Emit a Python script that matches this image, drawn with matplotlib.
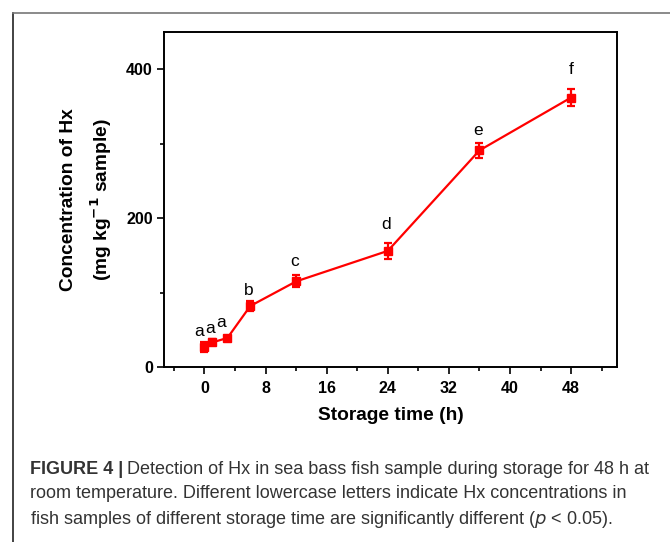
import matplotlib
matplotlib.use("Agg")
import matplotlib.pyplot as plt
from matplotlib.lines import Line2D
from matplotlib.ticker import MultipleLocator

# ---- data ----
time_h = [0, 1, 3, 6, 12, 24, 36, 48]
hx_conc = [27, 33, 39, 82, 115, 156, 291, 362]
hx_err = [7, 4, 3, 7, 8, 11, 10, 11]
sig_letters = ["a", "a", "a", "b", "c", "d", "e", "f"]
x_ticks = [0, 8, 16, 24, 32, 40, 48]
y_ticks = [0, 200, 400]

plt.rcParams['font.family'] = ['Liberation Sans', 'DejaVu Sans']

W, H = 670, 542
fig = plt.figure(figsize=(W / 100, H / 100), dpi=100)

ax = fig.add_axes([164 / W, 1 - 367 / H, (617 - 164) / W, (367 - 32) / H])

red = '#ff0000'
ax.errorbar(time_h, hx_conc, yerr=hx_err, color=red, marker='s', ms=5.5,
            lw=1.6, elinewidth=1.6, capsize=3, capthick=1.6)

# letter annotations (offsets in points from the top of each error bar)
x_off = [-3.6, -1.2, -4.5, -1, -1, -1.5, -0.7, 0]
y_off = [4, 5, 6, 4.3, 6.8, 10, 6, 10.8]
for t, v, e, s, xo, yo in zip(time_h, hx_conc, hx_err, sig_letters, x_off, y_off):
    ax.annotate(s, (t, v + e), xytext=(xo, yo), textcoords='offset points',
                ha='center', va='baseline', fontsize=12.5, color='black')

ax.set_xlim(-5.3, 54)
ax.set_ylim(0, 450)
ax.set_xticks(x_ticks)
ax.set_yticks(y_ticks)
ax.xaxis.set_minor_locator(MultipleLocator(4))
ax.yaxis.set_minor_locator(MultipleLocator(100))
ax.tick_params(axis='both', which='major', direction='out', length=5, width=1.2,
               labelsize=11.5)
ax.tick_params(axis='x', which='major', pad=5)
ax.tick_params(axis='y', which='major', pad=3)
ax.tick_params(axis='both', which='minor', direction='out', length=3, width=1.2)
for lab in ax.get_xticklabels() + ax.get_yticklabels():
    lab.set_fontweight('bold')
for sp in ax.spines.values():
    sp.set_linewidth(1.4)

ax.set_xlabel('Storage time (h)', fontsize=13.8, fontweight='bold', labelpad=8)
ax.set_ylabel('Concentration of Hx\n(mg kg$^{\\mathbf{-1}}$ sample)', fontsize=13.8,
              fontweight='bold', labelpad=8.5, linespacing=1.63)

# outer frame
fig.add_artist(Line2D([13 / W, 13 / W], [0, 1 - 13 / H], transform=fig.transFigure,
                      color='#222222', lw=1.2))
fig.add_artist(Line2D([13 / W, 1], [1 - 13 / H, 1 - 13 / H], transform=fig.transFigure,
                      color='#777777', lw=1.2))

# caption
cap_x = 30 / W
fs = 13.0
ccol = '#333333'
t_bold = fig.text(cap_x, 1 - 469 / H, 'FIGURE 4 |', fontsize=fs, fontweight='bold',
                  color=ccol, va='center', ha='left')
fig.canvas.draw()
bb = t_bold.get_window_extent(renderer=fig.canvas.get_renderer())
fig.text(bb.x1 / W + 4 / W, 1 - 469 / H,
         'Detection of Hx in sea bass fish sample during storage for 48 h at',
         fontsize=fs, color=ccol, va='center', ha='left')
fig.text(cap_x, 1 - 494 / H,
         'room temperature. Different lowercase letters indicate Hx concentrations in',
         fontsize=fs, color=ccol, va='center', ha='left')
fig.text(cap_x, 1 - 519 / H,
         'fish samples of different storage time are significantly different ($p$ < 0.05).',
         fontsize=fs, color=ccol, va='center', ha='left')

fig.savefig('out.png', dpi=100)
